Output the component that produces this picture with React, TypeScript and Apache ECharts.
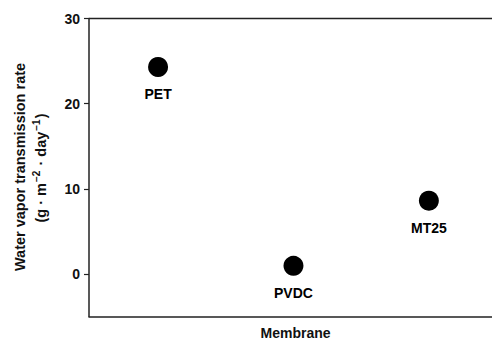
import React, { useEffect, useRef } from "react";
import * as echarts from "echarts";

const membranes = ["PET", "PVDC", "MT25"];
const positions = [1, 2, 3];
const wvtr = [24.3, 0.95, 8.6];
const yTicks = [0, 10, 20, 30];

export default function App() {
  const ref = useRef<HTMLDivElement>(null);
  useEffect(() => {
    const chart = echarts.init(ref.current!, null, { renderer: "svg" });
    const font = "'Liberation Sans', Arial, sans-serif";
    chart.setOption({
      animation: false,
      backgroundColor: "#ffffff",
      grid: { left: 89, right: -10, top: 18.5, bottom: 26.5, outerBoundsMode: "none", containLabel: false },
      xAxis: {
        type: "value",
        min: 0.49,
        max: 3.54,
        axisTick: { show: false },
        axisLabel: { show: false },
        splitLine: { show: false },
        name: "Membrane",
        nameLocation: "middle",
        nameGap: 9,
        nameTextStyle: { fontFamily: font, fontWeight: "bold", fontSize: 14, color: "#111" },
        axisLine: { show: true, onZero: false, lineStyle: { color: "#222", width: 1.5 } },
      },
      yAxis: {
        type: "value",
        min: -5,
        max: 30,
        interval: 5,
        axisLine: { show: true, onZero: false, lineStyle: { color: "#222", width: 1.5 } },
        axisTick: {
          show: true,
          inside: false,
          length: 5,
          lineStyle: { color: "#222", width: 1.2 },
          customValues: yTicks,
        },
        axisLabel: {
          fontFamily: font,
          fontWeight: "bold",
          fontSize: 14,
          color: "#111",
          margin: 9,
          customValues: yTicks,
          formatter: (v: number) => (yTicks.includes(v) ? String(v) : ""),
        },
        splitLine: { show: false },
      },
      series: [
        {
          type: "scatter",
          data: positions.map((x, i) => [x, wvtr[i]]),
          symbol: "circle",
          symbolSize: 20,
          itemStyle: { color: "#000", opacity: 1 },
          label: {
            show: true,
            position: "bottom",
            distance: 10,
            formatter: (p: any) => membranes[p.dataIndex],
            fontFamily: font,
            fontWeight: "bold",
            fontSize: 14,
            color: "#000",
          },
        },
      ],
      graphic: [
        {
          type: "line",
          shape: { x1: 89, y1: 18.5, x2: 492, y2: 18.5 },
          style: { stroke: "#222", lineWidth: 1.5 },
        },
        {
          type: "text",
          x: 20,
          y: 167,
          rotation: Math.PI / 2,
          style: {
            text: "Water vapor transmission rate",
            font: `bold 14.5px ${font}`,
            fill: "#111",
            textAlign: "center",
            textVerticalAlign: "middle",
          },
        },
        {
          type: "text",
          x: 41,
          y: 168,
          rotation: Math.PI / 2,
          style: {
            text: "(g · m{s|−2} · day{s|−1})",
            font: `bold 14.5px ${font}`,
            fill: "#111",
            textAlign: "center",
            textVerticalAlign: "middle",
            rich: {
              s: {
                fontFamily: font,
                fontWeight: "bold",
                fontSize: 10,
                fill: "#111",
                padding: [0, 1, 9, 1],
              },
            },
          },
        },
      ],
    });
    return () => chart.dispose();
  }, []);
  return <div ref={ref} style={{ width: 492, height: 343, position: "absolute", left: 0, top: 0 }} />;
}
